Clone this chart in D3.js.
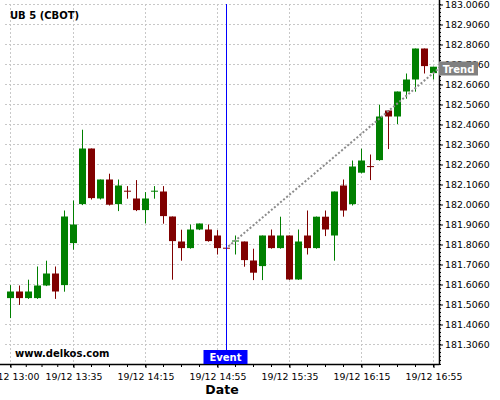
<!DOCTYPE html>
<html>
<head>
<meta charset="utf-8">
<script src="https://cdn.jsdelivr.net/npm/d3@7"></script>
<style>
  body { margin: 0; background: #fff; }
  svg { display: block; font-family: "DejaVu Sans", sans-serif; }
  .grid line { stroke: #c8c8c8; stroke-dasharray: 2,2; }
</style>
</head>
<body>
<svg width="500" height="400"></svg>
<script>
// 5 minute candles, 19/12 13:00 .. 16:55
const times = ["13:00","13:05","13:10","13:15","13:20","13:25","13:30","13:35","13:40","13:45",
  "13:50","13:55","14:00","14:05","14:10","14:15","14:20","14:25","14:30","14:35",
  "14:40","14:45","14:50","14:55","15:00","15:05","15:10","15:15","15:20","15:25",
  "15:30","15:35","15:40","15:45","15:50","15:55","16:00","16:05","16:10","16:15",
  "16:20","16:25","16:30","16:35","16:40","16:45","16:50","16:55"];
const opens = [181.538,181.571,181.538,181.538,181.601,181.661,181.603,181.813,182.008,182.286,
  182.036,182.131,182.008,182.075,182.036,181.978,182.072,182.071,181.946,181.821,
  181.788,181.881,181.881,181.851,181.790,181.823,181.821,181.726,181.698,181.851,
  181.788,181.851,181.631,181.851,181.788,181.945,181.851,182.101,182.008,182.165,
  182.198,182.228,182.476,182.446,182.571,182.631,182.786,182.663];
const highs = [181.603,181.601,181.630,181.696,181.725,181.696,181.976,182.026,182.380,182.286,
  182.131,182.160,182.131,182.098,182.128,182.068,182.098,182.098,181.946,181.880,
  181.906,181.911,181.906,181.878,181.792,181.851,181.821,181.785,181.851,181.881,
  181.945,181.851,181.881,181.976,181.946,181.976,182.071,182.131,182.226,182.285,
  182.256,182.505,182.476,182.571,182.661,182.786,182.786,182.695];
const lows = [181.438,181.504,181.534,181.534,181.598,181.534,181.570,181.780,182.003,182.031,
  182.031,182.001,181.973,182.035,181.973,181.911,182.035,181.910,181.630,181.725,
  181.785,181.878,181.820,181.756,181.785,181.756,181.695,181.628,181.628,181.785,
  181.785,181.629,181.629,181.756,181.785,181.848,181.725,181.945,182.001,182.162,
  182.128,182.225,182.283,182.408,182.535,182.570,182.661,182.631];
const closes = [181.571,181.538,181.571,181.601,181.661,181.571,181.946,181.906,182.286,182.038,
  182.131,182.005,182.101,182.072,181.978,182.036,182.075,181.948,181.823,181.788,
  181.881,181.911,181.823,181.788,181.787,181.826,181.728,181.665,181.851,181.788,
  181.851,181.631,181.821,181.788,181.945,181.881,182.071,181.976,182.196,182.226,
  182.194,182.446,182.446,182.571,182.631,182.786,182.698,182.695];

const tickIdx = [0, 7, 15, 23, 31, 39, 47];
const minorIdx = [0, 1.75, 3.5, 5.25, 7, 9, 11, 13, 15, 17, 19, 21, 23, 25, 27, 29, 31, 33, 35, 37, 39, 41, 43, 45, 47];
const yTicks = [181.306,181.406,181.506,181.606,181.706,181.806,181.906,182.006,182.106,182.206,
  182.306,182.406,182.506,182.606,182.706,182.806,182.906,183.006];

const eventIdx = 24;
const trendIdx = [24.2, 47.7];
const trendVals = [181.796, 182.691];

const svg = d3.select("svg");
const plotLeft = 0, plotRight = 439, plotTop = 4, plotBottom = 364;

const x = d3.scaleLinear().domain([0, 47]).range([10.5, 433.5]);
const y = d3.scaleLinear().domain([181.206, 183.006]).range([plotBottom + 0.5, plotTop + 0.5]);

// grid
const grid = svg.append("g").attr("class", "grid");
grid.selectAll(".hg").data(yTicks).enter().append("line")
  .attr("x1", 5).attr("x2", plotRight)
  .attr("y1", d => y(d)).attr("y2", d => y(d));
grid.selectAll(".vg").data(tickIdx).enter().append("line")
  .attr("x1", d => x(d)).attr("x2", d => x(d))
  .attr("y1", plotTop).attr("y2", plotBottom);

// candles
const data = times.map((t, i) => ({ i, o: opens[i], h: highs[i], l: lows[i], c: closes[i] }));
const candle = svg.selectAll(".candle").data(data).enter().append("g")
  .attr("fill", d => d.c >= d.o ? "#008000" : "#800000")
  .attr("stroke", d => d.c >= d.o ? "#008000" : "#800000");
candle.append("line")
  .attr("x1", d => x(d.i)).attr("x2", d => x(d.i))
  .attr("y1", d => y(d.h)).attr("y2", d => y(d.l))
  .attr("stroke-width", 1);
candle.append("rect")
  .attr("x", d => x(d.i) - 3.5).attr("width", 7)
  .attr("y", d => y(Math.max(d.o, d.c)))
  .attr("height", d => Math.max(1, Math.abs(y(d.o) - y(d.c))))
  .attr("stroke", "none");

// trend line
svg.append("path")
  .datum(trendIdx.map((d, k) => [d, trendVals[k]]))
  .attr("d", d3.line().x(d => x(d[0])).y(d => y(d[1])))
  .attr("fill", "none").attr("stroke", "#8c8c8c")
  .attr("stroke-width", 2).attr("stroke-dasharray", "2,2");

// event line
svg.append("line")
  .attr("x1", x(eventIdx)).attr("x2", x(eventIdx))
  .attr("y1", plotTop).attr("y2", 351)
  .attr("stroke", "#0000ff").attr("stroke-width", 1);

// y axis on the right
const yAxis = svg.append("g").attr("transform", `translate(${plotRight},0)`)
  .call(d3.axisRight(y).tickValues(yTicks).tickFormat(d3.format(".4f")).tickSize(4).tickPadding(2));
yAxis.select(".domain").remove();
yAxis.selectAll("text").attr("font-size", 9.4).attr("font-family", "DejaVu Sans").attr("fill", "#000");
const yMinor = d3.range(0, 91).map(k => 181.206 + k * 0.02);
svg.append("g").selectAll("line").data(yMinor).enter().append("line")
  .attr("x1", plotRight).attr("x2", plotRight + 2)
  .attr("y1", d => y(d)).attr("y2", d => y(d))
  .attr("stroke", "#000");

// x axis
const xAxis = svg.append("g").attr("transform", `translate(0,${plotBottom})`)
  .call(d3.axisBottom(x).tickValues(tickIdx).tickFormat(d => "19/12 " + times[d]).tickSize(4).tickPadding(5));
xAxis.select(".domain").remove();
xAxis.selectAll("text").attr("font-size", 9.4).attr("font-family", "DejaVu Sans").attr("fill", "#000");
svg.append("g").selectAll("line").data(minorIdx).enter().append("line")
  .attr("x1", d => x(d)).attr("x2", d => x(d))
  .attr("y1", plotBottom).attr("y2", plotBottom + 3)
  .attr("stroke", "#000");

// axis lines
svg.append("line").attr("x1", plotLeft).attr("x2", plotRight + 0.5).attr("y1", plotBottom + 0.5).attr("y2", plotBottom + 0.5)
  .attr("stroke", "#000").attr("stroke-width", 1.5);
svg.append("line").attr("x1", plotRight + 0.5).attr("x2", plotRight + 0.5).attr("y1", 0).attr("y2", plotBottom + 0.5)
  .attr("stroke", "#000").attr("stroke-width", 1.5);

// event label
svg.append("rect").attr("x", x(eventIdx) - 23).attr("y", 350).attr("width", 44).attr("height", 14)
  .attr("fill", "#0000ff");
svg.append("text").attr("x", x(eventIdx) - 1).attr("y", 361).attr("text-anchor", "middle")
  .attr("font-size", 10).attr("font-weight", "bold").attr("fill", "#fff").text("Event");

// trend label
svg.append("rect").attr("x", plotRight).attr("y", y(trendVals[1]) - 6).attr("width", 39).attr("height", 14)
  .attr("fill", "#808080");
svg.append("text").attr("x", plotRight + 19.5).attr("y", y(trendVals[1]) + 5).attr("text-anchor", "middle")
  .attr("font-size", 10).attr("font-weight", "bold").attr("fill", "#fff").text("Trend");

// texts
svg.append("text").attr("x", 10).attr("y", 19).attr("font-size", 10).attr("font-weight", "bold")
  .text("UB 5 (CBOT)");
svg.append("text").attr("x", 15).attr("y", 357).attr("font-size", 10).attr("font-weight", "bold")
  .text("www.delkos.com");
svg.append("text").attr("x", 222).attr("y", 394).attr("text-anchor", "middle")
  .attr("font-size", 12.5).attr("font-weight", "bold").text("Date");
</script>
</body>
</html>
